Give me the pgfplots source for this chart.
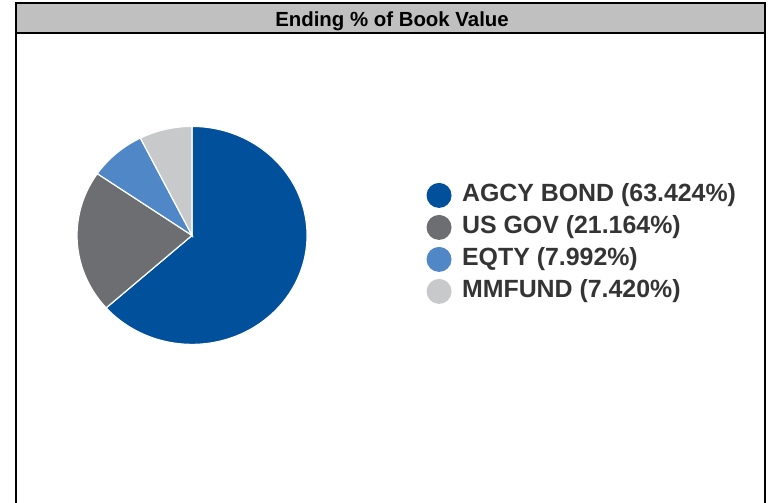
\documentclass[border=0pt]{standalone}
\usepackage{fontspec}
\setmainfont{Liberation Sans}
\usepackage{pgfplots}
\usepackage{pgfplotstable}
\pgfplotsset{compat=1.18}
\definecolor{agcy}{RGB}{0,80,155}
\definecolor{usgov}{RGB}{109,110,113}
\definecolor{eqty}{RGB}{79,135,199}
\definecolor{mmf}{RGB}{200,201,203}
\definecolor{hdr}{RGB}{192,192,192}
\definecolor{txt}{RGB}{52,52,52}
\pgfplotstableread{
label pct
AGCY 63.424
USGOV 21.164
EQTY 7.992
MMFUND 7.420
}\piedata
\pgfplotstablegetelem{0}{pct}\of\piedata \let\pa\pgfplotsretval
\pgfplotstablegetelem{1}{pct}\of\piedata \let\pb\pgfplotsretval
\pgfplotstablegetelem{2}{pct}\of\piedata \let\pc\pgfplotsretval
\pgfplotstablegetelem{3}{pct}\of\piedata \let\pd\pgfplotsretval
\pgfmathsetmacro\ca{\pa}
\pgfmathsetmacro\cb{\pa+\pb}
\pgfmathsetmacro\cc{\pa+\pb+\pc}
\pgfmathsetmacro\cd{\pa+\pb+\pc+\pd}
\begin{document}
\begin{tikzpicture}[x=1pt,y=1pt]
\path[use as bounding box] (0,0) rectangle (771,503);
\fill[hdr] (16,470) rectangle (765,500);
\draw[line width=2.3pt] (16,-5) -- (16,500) -- (765,500) -- (765,-5);
\draw[line width=2.3pt] (16,470) -- (765,470);
\node[font=\fontsize{20.4}{24}\selectfont\bfseries, anchor=base, inner sep=0pt] at (392,476) {Ending \% of Book Value};
\begin{axis}[
  at={(67,145.5)}, anchor=south west, scale only axis,
  width=230pt, height=218pt,
  xmin=-1, xmax=1, ymin=-1, ymax=1,
  hide axis, clip=false,
  legend cell align=left,
  legend image code/.code={\fill[#1, draw=none] (12.5pt,0pt) circle (12.5pt);},
  legend style={draw=none, fill=none, inner sep=0pt, outer sep=0pt,
    at={(axis description cs:1.5196,0.7408)}, anchor=north west,
    font=\fontsize{24.9}{29}\selectfont\bfseries, text=txt,
    row sep=7pt,
    nodes={inner sep=0pt, text height=18pt, text depth=5pt},
    /tikz/every odd column/.append style={column sep=10.5pt}},
]
\addplot[fill=agcy, draw=white, line width=1.2pt, domain=0:\ca, samples=150, variable=\t]
  ({sin(3.6*\t)}, {cos(3.6*\t)}) -- (0,0) -- cycle;
\addlegendentry{AGCY BOND (63.424\%)}
\addplot[fill=usgov, draw=white, line width=1.2pt, domain=\ca:\cb, samples=60, variable=\t]
  ({sin(3.6*\t)}, {cos(3.6*\t)}) -- (0,0) -- cycle;
\addlegendentry{US GOV (21.164\%)}
\addplot[fill=eqty, draw=white, line width=1.2pt, domain=\cb:\cc, samples=30, variable=\t]
  ({sin(3.6*\t)}, {cos(3.6*\t)}) -- (0,0) -- cycle;
\addlegendentry{EQTY (7.992\%)}
\addplot[fill=mmf, draw=white, line width=1.2pt, domain=\cc:\cd, samples=30, variable=\t]
  ({sin(3.6*\t)}, {cos(3.6*\t)}) -- (0,0) -- cycle;
\addlegendentry{MMFUND (7.420\%)}
\end{axis}
\end{tikzpicture}
\end{document}
